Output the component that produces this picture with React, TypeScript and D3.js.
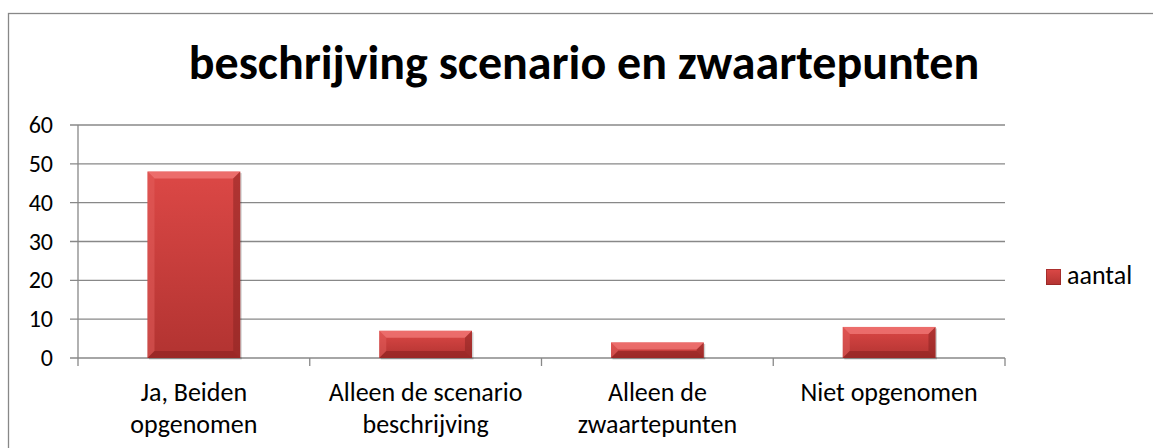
import React from "react";
import * as d3 from "d3";

const categories = [
  ["Ja, Beiden", "opgenomen"],
  ["Alleen de scenario", "beschrijving"],
  ["Alleen de", "zwaartepunten"],
  ["Niet opgenomen"],
];
const aantal = [48, 7, 4, 8];
const yTicks = [0, 10, 20, 30, 40, 50, 60];
const title = "beschrijving scenario en zwaartepunten";
const seriesName = "aantal";

const width = 1153;
const height = 448;
const margin = { top: 125, right: 148, bottom: 90, left: 78 };
const font = "Carlito, Calibri, Lato, sans-serif";

function Bar({ x, y, w, h }: { x: number; y: number; w: number; h: number }) {
  const b = Math.min(7, h / 2, w / 2);
  return (
    <g>
      <rect x={x + 1.5} y={y + 1.5} width={w} height={h} fill="#000" opacity={0.18} />
      <rect x={x} y={y} width={w} height={h} fill="url(#barGrad)" />
      {/* bevel edges */}
      <polygon
        points={`${x},${y} ${x + w},${y} ${x + w - b},${y + b} ${x + b},${y + b}`}
        fill="#f27a78"
        opacity={0.75}
      />
      <polygon
        points={`${x},${y} ${x + b},${y + b} ${x + b},${y + h - b} ${x},${y + h}`}
        fill="#e4605e"
        opacity={0.5}
      />
      <polygon
        points={`${x + w},${y} ${x + w},${y + h} ${x + w - b},${y + h - b} ${x + w - b},${y + b}`}
        fill="#8c2422"
        opacity={0.55}
      />
      <polygon
        points={`${x},${y + h} ${x + w},${y + h} ${x + w - b},${y + h - b} ${x + b},${y + h - b}`}
        fill="#8a2220"
        opacity={0.6}
      />
    </g>
  );
}

export default function App() {
  const x = d3
    .scaleBand()
    .domain(categories.map((_, i) => String(i)))
    .range([margin.left, width - margin.right])
    .paddingInner(0.6)
    .paddingOuter(0.3);
  const step = x.step();
  const x0 = margin.left;
  const plotRight = width - margin.right;

  const y = d3
    .scaleLinear()
    .domain([0, 60])
    .range([height - margin.bottom, margin.top]);

  return (
    <svg
      width={width}
      height={height}
      style={{ position: "absolute", left: 0, top: 0, background: "#fff" }}
      fontFamily={font}
    >
      <defs>
        <linearGradient id="barGrad" x1="0" y1="0" x2="0" y2="1">
          <stop offset="0" stopColor="#dc4846" />
          <stop offset="1" stopColor="#b23331" />
        </linearGradient>
      </defs>
      <rect x={8.5} y={13.5} width={width} height={height} fill="none" stroke="#888" strokeWidth={1.3} />
      <text
        x={584}
        y={79}
        textAnchor="middle"
        fontSize={48}
        fontWeight="bold"
        fill="#000"
      >
        {title}
      </text>

      {yTicks.map((t) => (
        <g key={t}>
          <line x1={x0 - 8} x2={plotRight} y1={y(t)} y2={y(t)} stroke="#888" strokeWidth={1.3} />
          <text x={53} y={y(t) + 8} textAnchor="end" fontSize={24}>
            {t}
          </text>
        </g>
      ))}
      <line x1={x0} x2={x0} y1={y(60)} y2={y(0) + 8} stroke="#888" strokeWidth={1.3} />
      {categories.map((_, i) => (
        <line
          key={i}
          x1={x0 + step * (i + 1)}
          x2={x0 + step * (i + 1)}
          y1={y(0)}
          y2={y(0) + 8}
          stroke="#888"
          strokeWidth={1.3}
        />
      ))}

      {aantal.map((v, i) => (
        <Bar
          key={i}
          x={x(String(i))!}
          y={y(v)}
          w={x.bandwidth()}
          h={y(0) - y(v)}
        />
      ))}

      {categories.map((lines, i) => (
        <text
          key={i}
          x={x(String(i))! + x.bandwidth() / 2}
          y={401}
          textAnchor="middle"
          fontSize={26}
        >
          {lines.map((l, j) => (
            <tspan key={j} x={x(String(i))! + x.bandwidth() / 2} dy={j === 0 ? 0 : 32}>
              {l}
            </tspan>
          ))}
        </text>
      ))}

      <g transform="translate(1046,269)">
        <rect width={15} height={16} fill="url(#barGrad)" />
        <rect x={0.5} y={0.5} width={14} height={15} fill="none" stroke="#8a2220" strokeWidth={1} opacity={0.6} />
        <text x={21} y={15} fontSize={26}>
          {seriesName}
        </text>
      </g>
    </svg>
  );
}
